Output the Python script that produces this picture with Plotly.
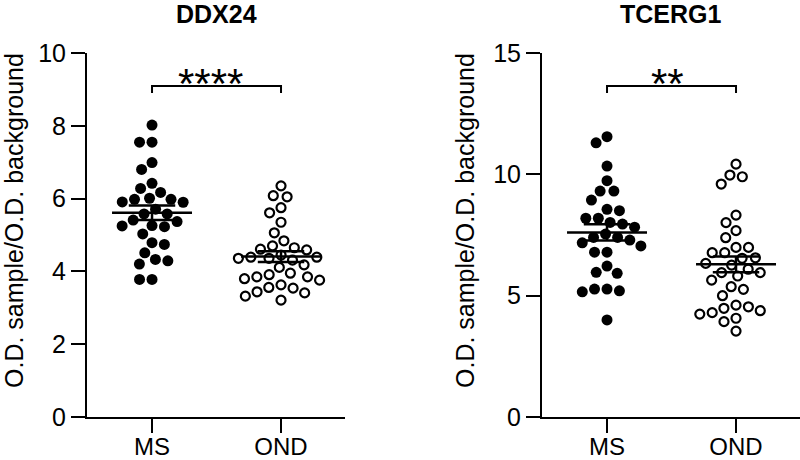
import numpy as np
import plotly.graph_objects as go

# ---------------- data ----------------
groups = ["MS", "OND"]
titles = ["DDX24", "TCERG1"]
sig_labels = ["****", "**"]
y_title = "O.D. sample/O.D. background"

ddx24_ms = [8.02, 7.55, 7.55, 6.80, 6.99, 6.28, 6.17, 6.42, 5.98, 5.91,
            5.90, 5.98, 6.01, 5.58, 5.71, 5.58, 5.41, 5.37, 5.25, 5.23,
            5.26, 5.03, 4.74, 4.79, 4.51, 4.33, 4.20, 4.29, 3.78, 3.78]
ddx24_ond = [6.35, 6.08, 6.05, 5.75, 5.61, 5.35, 5.06, 4.84, 4.59, 4.65,
             4.70, 4.61, 4.39, 4.36, 4.31, 4.36, 4.39, 4.45, 4.18, 4.11,
             3.95, 3.85, 3.80, 3.76, 3.85, 3.91, 3.63, 3.56, 3.41, 3.21,
             3.32, 3.44, 3.54]
tcerg1_ms = [11.55, 11.30, 10.34, 9.74, 9.31, 9.31, 8.94, 8.56, 8.50, 8.19,
             7.95, 8.02, 8.19, 7.82, 7.54, 7.40, 7.18, 7.29, 7.40, 7.05,
             6.79, 6.79, 6.22, 5.92, 5.96, 5.27, 5.20, 5.16, 5.27, 4.00]
tcerg1_ond = [10.42, 9.90, 9.97, 9.60, 8.32, 8.01, 7.68, 7.39, 6.99, 6.77,
              6.77, 6.99, 6.54, 6.56, 6.33, 6.09, 5.95, 5.81, 5.95, 6.26,
              5.64, 5.37, 5.00, 5.26, 4.61, 4.48, 4.07, 4.30, 4.24, 3.93,
              4.38, 4.54, 3.54]

y_ticks_ddx24 = [0, 2, 4, 6, 8, 10]
y_ticks_tcerg1 = [0, 5, 10, 15]
y_max = [10, 15]
sig_y = [9.09, 13.64]

# ---------------- layout constants ----------------
W, H = 800, 460
FONT = "Liberation Sans, Arial, Helvetica, sans-serif"
x_dom = [[87 / W, 345 / W], [542 / W, 1.0]]
y_dom = [43 / H, 407 / H]
x_rng = [0.496, 2.496]
plot_w = 258.0
plot_h = 364.0
px_per_x = plot_w / (x_rng[1] - x_rng[0])
ytitle_x = [14 / W, 465 / W]
star_shift = [-6, -4]


def swarm(values, px_per_y, diam=12.5):
    vals = np.asarray(values, dtype=float)
    order = np.argsort(-vals, kind="stable")
    placed = []
    offs = np.zeros(len(vals))
    for i in order:
        y = vals[i] * px_per_y
        cands = [0.0]
        for (px, py) in placed:
            dy = y - py
            if abs(dy) < diam:
                dx = np.sqrt(diam ** 2 - dy ** 2)
                cands += [px + dx, px - dx]
        cands.sort(key=lambda c: (abs(c), c))
        for c in cands:
            if all((c - px) ** 2 + (y - py) ** 2 >= diam ** 2 - 1e-6 for px, py in placed):
                offs[i] = c
                placed.append((c, y))
                break
    return offs / px_per_x


fig = go.Figure()
panels = [(ddx24_ms, ddx24_ond), (tcerg1_ms, tcerg1_ond)]

for p, (ms, ond) in enumerate(panels):
    xa = "x" if p == 0 else "x2"
    ya = "y" if p == 0 else "y2"
    ppy = plot_h / y_max[p]
    for g, vals in enumerate([ms, ond]):
        xc = g + 1
        offs = swarm(vals, ppy)
        filled = g == 0
        fig.add_trace(go.Scatter(
            x=xc + offs, y=vals, mode="markers", xaxis=xa, yaxis=ya,
            cliponaxis=False, showlegend=False, hoverinfo="y",
            marker=dict(size=11 if filled else 9,
                        color="black" if filled else "white",
                        line=dict(color="black", width=0 if filled else 2.2)),
        ))
    for g, vals in enumerate([ms, ond]):
        xc = g + 1
        v = np.asarray(vals)
        m = v.mean()
        sem = v.std(ddof=1) / np.sqrt(len(v))
        hw, cw = 0.31, 0.18
        xs = [xc - hw, xc + hw, None, xc, xc, None,
              xc - cw, xc + cw, None, xc - cw, xc + cw]
        ys = [m, m, None, m - sem, m + sem, None,
              m + sem, m + sem, None, m - sem, m - sem]
        fig.add_trace(go.Scatter(
            x=xs, y=ys, mode="lines", xaxis=xa, yaxis=ya, showlegend=False,
            hoverinfo="skip", line=dict(color="black", width=2.5),
        ))
    # significance bracket
    tick = 7.0 / ppy
    fig.add_trace(go.Scatter(
        x=[1, 1, 2, 2], y=[sig_y[p] - tick, sig_y[p], sig_y[p], sig_y[p] - tick],
        mode="lines", xaxis=xa, yaxis=ya, showlegend=False, hoverinfo="skip",
        line=dict(color="black", width=2),
    ))
    fig.add_annotation(x=1.5, y=sig_y[p], xref=xa, yref=ya, text=sig_labels[p],
                       showarrow=False, yanchor="middle", xanchor="center",
                       yshift=3, xshift=star_shift[p],
                       font=dict(family=FONT, size=42, color="black"))
    # panel title
    fig.add_annotation(x=(x_dom[p][0] + x_dom[p][1]) / 2,
                       y=1 - 14.5 / H, xref="paper", yref="paper",
                       text="<b>%s</b>" % titles[p], showarrow=False,
                       yanchor="middle", xanchor="center",
                       font=dict(family=FONT, size=25, color="black"))
    # y-axis title
    fig.add_annotation(x=ytitle_x[p], y=1 - 221 / H, xref="paper", yref="paper",
                       text=y_title, showarrow=False, textangle=-90,
                       xanchor="center", yanchor="middle",
                       font=dict(family=FONT, size=25, color="black"))

axis_common = dict(showline=True, linewidth=2, linecolor="black", ticks="outside",
                   ticklen=14, tickwidth=2, tickcolor="black", showgrid=False,
                   zeroline=False, automargin=False)
xfont = dict(family=FONT, size=24, color="black")
yfont = dict(family=FONT, size=25, color="black")

fig.update_layout(
    width=W, height=H, margin=dict(l=0, r=0, t=0, b=0, pad=0, autoexpand=False),
    autosize=False,
    plot_bgcolor="white", paper_bgcolor="white",
    xaxis=dict(domain=x_dom[0], range=x_rng, tickvals=[1, 2], ticktext=groups,
               anchor="y", tickfont=xfont, ticklabelstandoff=-7, **axis_common),
    yaxis=dict(domain=y_dom, range=[0, y_max[0]], tickvals=y_ticks_ddx24, anchor="x",
               tickfont=yfont, **axis_common),
    xaxis2=dict(domain=x_dom[1], range=x_rng, tickvals=[1, 2], ticktext=groups,
                anchor="y2", tickfont=xfont, ticklabelstandoff=-7, **axis_common),
    yaxis2=dict(domain=y_dom, range=[0, y_max[1]], tickvals=y_ticks_tcerg1, anchor="x2",
                tickfont=yfont, **axis_common),
)

fig.write_html(
    "out.html",
    config={"displayModeBar": False},
    post_script="document.body.style.margin='0';document.body.style.overflow='hidden';",
)
